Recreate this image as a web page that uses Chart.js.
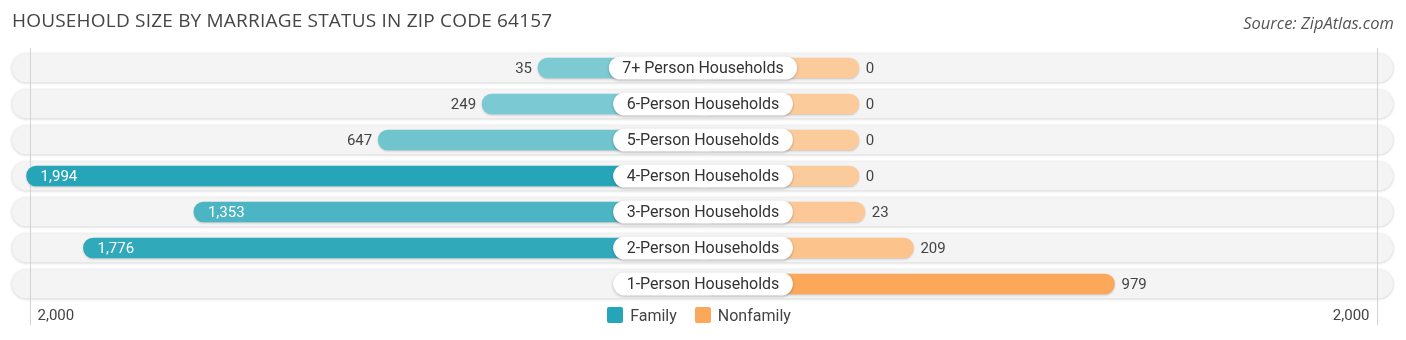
<!DOCTYPE html>
<html>
<head>
<meta charset="utf-8">
<script src="https://cdn.jsdelivr.net/npm/chart.js@4.4.1/dist/chart.umd.min.js"></script>
<style>
  body { margin: 0; background: #fff; }
  #wrap { position: relative; width: 1406px; height: 340px; overflow: hidden; }
  #title { position: absolute; left: 12px; top: 7px; font: 19px "Open Sans", sans-serif; letter-spacing: 0.2px; color: #454545; white-space: nowrap; }
  #source { position: absolute; right: 12px; top: 11px; font: italic 16.5px "Open Sans", sans-serif; color: #555; }
  #legend { position: absolute; left: -4px; top: 306px; width: 1406px; text-align: center; font: 16px Roboto, sans-serif; color: #444; }
  #legend span.item { display: inline-block; margin: 0 9px; }
  #legend i { display: inline-block; width: 16px; height: 16px; vertical-align: -2px; margin-right: 7px; border-radius: 2px; }
  canvas { position: absolute; left: 0; top: 0; }
</style>
</head>
<body>
<div id="wrap">
  <canvas id="chart" width="1406" height="340"></canvas>
  <div id="title">HOUSEHOLD SIZE BY MARRIAGE STATUS IN ZIP CODE 64157</div>
  <div id="source">Source: ZipAtlas.com</div>
  <div id="legend"></div>
</div>
<script>
// data
const categories = [
    '7+ Person Households',
    '6-Person Households',
    '5-Person Households',
    '4-Person Households',
    '3-Person Households',
    '2-Person Households',
    '1-Person Households'
];
const familyValues = [35, 249, 647, 1994, 1353, 1776, null];
const nonfamilyValues = [0, 0, 0, 0, 23, 209, 979];
const tickValues = [-2000, 2000];
const tickLabels = ['2,000', '2,000'];
const seriesNames = ['Family', 'Nonfamily'];

// styling
const familyColors = ['#7dcad3', '#7bc9d3', '#6fc4ce', '#27a5b8', '#4cb5c3', '#30a9bb', '#7dcad3'];
const nonfamilyColors = ['#fccb9c', '#fccb9c', '#fccb9c', '#fccb9c', '#fcc898', '#fcc38c', '#fba85a'];
const legendColors = ['#27a5b8', '#fba85a'];
const GAP = 597;      // half width of the centre label area, in data units
const MAX = 2000;

// legend
const legendEl = document.getElementById('legend');
seriesNames.forEach((name, i) => {
    const item = document.createElement('span');
    item.className = 'item';
    item.innerHTML = `<i style="background:${legendColors[i]}"></i>${name}`;
    legendEl.appendChild(item);
});

const fmt = v => v.toLocaleString('en-US');

const rowsPlugin = {
    id: 'rows',
    beforeDatasetsDraw(chart) {
        const { ctx, chartArea, scales: { x, y } } = chart;
        // row background pills
        categories.forEach((c, i) => {
            const cy = y.getPixelForValue(i);
            ctx.save();
            ctx.shadowColor = 'rgba(0,0,0,0.22)';
            ctx.shadowBlur = 3;
            ctx.shadowOffsetY = 0.5;
            ctx.fillStyle = '#f4f4f4';
            ctx.beginPath();
            ctx.roundRect(chartArea.left - 13, cy - 14.5, chartArea.width + 25, 29, 14.5);
            ctx.fill();
            ctx.restore();
        });
        // end grid lines + tick labels
        ctx.save();
        ctx.strokeStyle = '#d2d2d2';
        ctx.lineWidth = 1;
        ctx.font = '15px Roboto';
        ctx.fillStyle = '#444';
        ctx.textBaseline = 'middle';
        tickValues.forEach((v, i) => {
            const px = Math.round(x.getPixelForValue(v < 0 ? v - GAP : v + GAP) + (v < 0 ? 5 : -4)) + 0.5;
            ctx.beginPath();
            ctx.moveTo(px, chartArea.top - 2);
            ctx.lineTo(px, chartArea.bottom + 23);
            ctx.stroke();
            ctx.textAlign = v < 0 ? 'left' : 'right';
            ctx.fillText(tickLabels[i], v < 0 ? px + 7 : px - 8, chartArea.bottom + 14);
        });
        ctx.restore();
        // shadow for the bars
        ctx.save();
        ctx.shadowColor = 'rgba(0,0,0,0.18)';
        ctx.shadowBlur = 2;
        ctx.shadowOffsetY = 1;
    },
    afterDatasetsDraw(chart) {
        const { ctx, scales: { x, y } } = chart;
        ctx.restore();
        const cx = x.getPixelForValue(0);
        ctx.save();
        ctx.textBaseline = 'middle';
        categories.forEach((c, i) => {
            const cy = y.getPixelForValue(i);
            // centre label
            ctx.font = '16px Roboto';
            const w = ctx.measureText(c).width + 27;
            ctx.save();
            ctx.shadowColor = 'rgba(0,0,0,0.25)';
            ctx.shadowBlur = 3;
            ctx.shadowOffsetY = 1;
            ctx.fillStyle = '#fff';
            ctx.beginPath();
            ctx.roundRect(cx - w / 2, cy - 11.5, w, 23, 11.5);
            ctx.fill();
            ctx.restore();
            ctx.fillStyle = '#333';
            ctx.textAlign = 'center';
            ctx.fillText(c, cx, cy + 1);

            // value labels
            ctx.font = '15px Roboto';
            const fv = familyValues[i];
            if (fv !== null) {
                const left = x.getPixelForValue(-(GAP + fv));
                if (fv > 1000) {
                    ctx.fillStyle = '#fff';
                    ctx.textAlign = 'left';
                    ctx.fillText(fmt(fv), left + 14, cy + 1);
                } else {
                    ctx.fillStyle = '#444';
                    ctx.textAlign = 'right';
                    ctx.fillText(fmt(fv), left - 6, cy + 1);
                }
            }
            const nv = nonfamilyValues[i];
            if (nv !== null) {
                const right = x.getPixelForValue(GAP + nv);
                ctx.fillStyle = '#444';
                ctx.textAlign = 'left';
                ctx.fillText(fmt(nv), right + 7, cy + 1);
            }
        });
        ctx.restore();
    }
};

new Chart(document.getElementById('chart'), {
    type: 'bar',
    data: {
        labels: categories,
        datasets: [
            {
                label: seriesNames[0],
                data: familyValues.map(v => v === null ? null : [-(GAP + v), 0]),
                backgroundColor: familyColors,
                borderRadius: 10,
                borderSkipped: false,
                barThickness: 20,
                grouped: false
            },
            {
                label: seriesNames[1],
                data: nonfamilyValues.map(v => v === null ? null : [0, GAP + v]),
                backgroundColor: nonfamilyColors,
                borderRadius: 10,
                borderSkipped: false,
                barThickness: 20,
                grouped: false
            }
        ]
    },
    options: {
        indexAxis: 'y',
        responsive: false,
        animation: false,
        devicePixelRatio: 1,
        layout: { padding: { left: 25, right: 25, top: 50, bottom: 38 } },
        plugins: {
            legend: { display: false },
            tooltip: { enabled: false }
        },
        scales: {
            x: { display: false, min: -(GAP + MAX), max: GAP + MAX },
            y: { display: false }
        }
    },
    plugins: [rowsPlugin]
});
</script>
</body>
</html>
